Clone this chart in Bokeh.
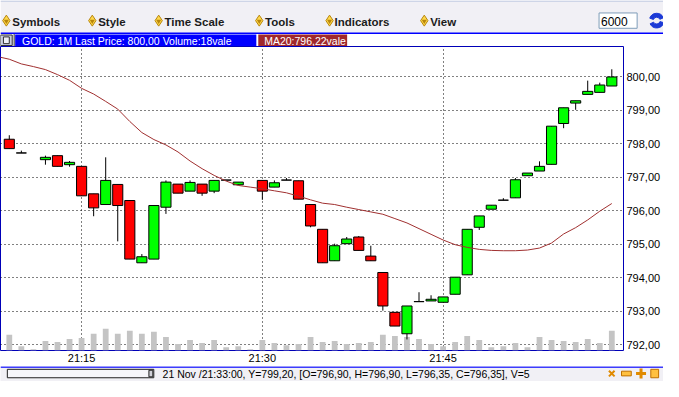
from bokeh.plotting import figure
from bokeh.models import Range1d, FixedTicker, ColumnDataSource, CustomJSTickFormatter
from bokeh.layouts import column
from bokeh.embed import file_html
from bokeh.resources import INLINE
from bokeh.core.properties import value
import numpy as np

nan = float("nan")

# ---------------- data ----------------
times = ["21:%02d" % m for m in range(9, 60)]          # one-minute bars 21:09 .. 21:59
open_ = [798.14, 797.73, nan, 797.53, 797.65, 797.38, 797.33, 796.51, 796.19, 796.79,
         796.31, 794.45, 794.56, 796.11, 796.80, 796.59, 796.80, 796.59, 796.92, 796.78,
         nan, 796.91, 796.71, 796.92, 796.90, 796.19, 795.45, 794.51, 795.02, 795.22,
         794.65, 794.16, 792.97, 792.33, 793.29, 793.31, 793.27, 793.51, 794.09, 795.51,
         796.05, 796.32, 796.39, 797.05, 797.19, 797.39, 798.61, 799.22, 799.48, 799.54,
         799.73]
high = [798.26, 797.80, nan, 797.65, 797.65, 797.49, 797.33, 796.51, 797.60, 796.79,
        796.31, 794.71, 796.16, 796.91, 796.80, 796.91, 796.80, 796.91, 796.92, 796.86,
        nan, 796.91, 796.91, 796.98, 796.90, 796.19, 795.45, 795.02, 795.22, 795.25,
        794.96, 794.16, 792.97, 793.16, 793.57, 793.48, 793.43, 794.02, 795.45, 795.85,
        796.17, 796.38, 796.98, 797.13, 797.48, 798.53, 799.08, 799.29, 799.89, 799.83,
        800.23]
low = [797.86, 797.73, nan, 797.38, 797.33, 797.32, 796.45, 795.84, 796.19, 795.09,
       794.56, 794.45, 794.56, 795.91, 796.53, 796.59, 796.45, 796.53, 796.92, 796.78,
       nan, 796.33, 796.71, 796.92, 796.35, 795.51, 794.45, 794.51, 795.02, 794.82,
       794.51, 793.02, 792.56, 792.16, 793.29, 793.31, 793.27, 793.51, 794.09, 795.43,
       796.05, 796.32, 796.39, 797.05, 797.19, 797.39, 798.47, 799.02, 799.48, 799.54,
       799.73]
close = [797.86, 797.73, nan, 797.60, 797.33, 797.45, 796.45, 796.09, 796.91, 796.16,
         794.56, 794.63, 796.16, 796.86, 796.53, 796.85, 796.53, 796.91, 796.92, 796.86,
         nan, 796.59, 796.84, 796.92, 796.35, 795.55, 794.45, 794.96, 795.16, 794.82,
         794.51, 793.16, 792.56, 793.16, 793.29, 793.36, 793.43, 794.02, 795.45, 795.85,
         796.17, 796.32, 796.93, 797.13, 797.33, 798.53, 799.08, 799.29, 799.57, 799.76,
         800.00]
volume = [14, 3, 0, 8, 7, 10, 11, 15, 20, 15, 18, 15, 17, 12, 5, 9, 6, 9, 2, 3,
          0, 9, 6, 4, 5, 12, 7, 8, 5, 6, 7, 14, 13, 12, 10, 5, 3, 7, 13, 9,
          2, 3, 6, 2, 12, 9, 8, 7, 10, 6, 18]
# MA20 starts one bar before the first visible candle (21:08)
ma20 = [800.61, 800.53, 800.39, 800.31, 800.22, 800.07, 799.90, 799.66, 799.49, 799.27,
        799.04, 798.67, 798.34, 798.13, 797.97, 797.76, 797.49, 797.26, 797.06, 796.89,
        796.76, 796.71, 796.66, 796.60, 796.54, 796.44, 796.33, 796.23, 796.19, 796.11,
        796.04, 795.97, 795.90, 795.77, 795.64, 795.47, 795.30, 795.13, 794.99, 794.91,
        794.85, 794.82, 794.81, 794.81, 794.83, 794.89, 795.04, 795.31, 795.50, 795.73,
        795.99, 796.22]
price_ticks = [792, 793, 794, 795, 796, 797, 798, 799, 800]
time_ticks = ["21:15", "21:30", "21:45"]
menu_items = ["Symbols", "Style", "Time Scale", "Tools", "Indicators", "View"]
cursor_bar = "21:33"
cursor_y = "799,20"

# ---------------- helpers ----------------
def fmt(v):
    return ("%.2f" % v).replace(".", ",")

W = 663
FONT = value("Liberation Sans")
BLUE = "#0000ff"
BAR_BG = "#f1f0f5"

# ---------------- header (menu + title bar) ----------------
hdr = figure(width=W, height=46, x_range=Range1d(0, 679), y_range=Range1d(48, 0),
             output_backend="svg", toolbar_location=None, min_border=0,
             x_axis_location=None, y_axis_location=None, outline_line_color=None,
             background_fill_color="white", border_fill_color="white", frame_align=False)
hdr.grid.visible = False
hdr.quad(left=0, right=679, top=0, bottom=34, fill_color=BAR_BG, line_color=None)
hdr.segment(x0=0, y0=0.6, x1=679, y1=0.6, line_color="#b4c0dc", line_width=1)
hdr.segment(x0=0, y0=34.3, x1=679, y1=34.3, line_color=BLUE, line_width=1.5)

menu_icon_x = [6, 94, 162, 265, 337, 434]
menu_text_x = [12, 100, 168, 271, 342, 440]
hdr.scatter(x=menu_icon_x, y=[21] * 6, marker="diamond", size=11,
            fill_color="#ffd84a", line_color="#b8860b", line_width=1)
hdr.scatter(x=menu_icon_x, y=[21.5] * 6, marker="inverted_triangle", size=5,
            fill_color="#b8860b", line_color=None)
hdr.text(x=menu_text_x, y=[22] * 6, text=menu_items, text_font=FONT,
         text_font_style="bold", text_font_size="11.5px", text_baseline="middle",
         text_color="#1c1c1c")

# quantity box + refresh icon
hdr.quad(left=613, right=652, top=13, bottom=29, fill_color="white", line_color="#7f9db9")
hdr.text(x=[615], y=[21.5], text=["6000"], text_font=FONT, text_font_size="12px",
         text_baseline="middle", text_color="black")
hdr.annular_wedge(x=[672, 672], y=[21, 21], inner_radius=3.5, outer_radius=7.5,
                  start_angle=[0.4, 3.6], end_angle=[2.8, 6.0], color="#1c3ad6")

# title bar
hdr.quad(left=0, right=12, top=36, bottom=47, fill_color="#c8cce0", line_color="#303030")
hdr.quad(left=3, right=9, top=38, bottom=45, fill_color="#eef0f8", line_color="#303030")
hdr.segment(x0=14, y0=35, x1=14, y1=48, line_color="#303030")
hdr.quad(left=15, right=262, top=35.5, bottom=48, fill_color=BLUE, line_color=None)
hdr.quad(left=264, right=355, top=35.5, bottom=48, fill_color="#a0282c", line_color=None)
title_txt = "GOLD: 1M Last Price: %s Volume:%dvale" % (fmt(close[-1]), volume[-1])
ma_txt = "MA20:%svale" % fmt(ma20[-1])
hdr.text(x=[22, 270], y=[42, 42], text=[title_txt, ma_txt], text_font=FONT,
         text_font_size="10.5px", text_baseline="middle", text_color="white")

# ---------------- main chart ----------------
n = len(times)
idx = np.arange(n)
o = np.array(open_, dtype=float)
h = np.array(high, dtype=float)
l = np.array(low, dtype=float)
c = np.array(close, dtype=float)
colors = ["#00ff00" if not (cc < oo) else "#ff0000" for oo, cc in zip(o, c)]
src = ColumnDataSource(dict(x=idx, open=o, high=h, low=l, close=c, color=colors,
                            vol=np.array(volume, dtype=float)))

p = figure(width=W, height=320, x_range=Range1d(-0.73, 50.97),
           y_range=Range1d(791.83, 800.91), output_backend="svg",
           toolbar_location=None, y_axis_location="right",
           min_border_left=0, min_border_right=38, min_border_top=0, min_border_bottom=14,
           outline_line_color="#0000b8", outline_line_width=1,
           background_fill_color="white", border_fill_color="white", frame_align=False)

vol_start = -1.2
p.extra_y_ranges = {"vol": Range1d(vol_start, 294.1)}
p.vbar(x="x", top="vol", bottom=vol_start, width=0.48, fill_color="#c4c4c4",
       line_color=None, y_range_name="vol", source=src)

p.segment(x0="x", y0="low", x1="x", y1="high", line_color="black", line_width=1, source=src)
p.vbar(x="x", top="open", bottom="close", width=0.84, fill_color="color",
       line_color="black", line_width=1, source=src)

ma_x = np.arange(-1, n)
p.line(x=ma_x, y=ma20, line_color="#a03030", line_width=1)

tick_idx = [times.index(t) for t in time_ticks]
p.xaxis.ticker = FixedTicker(ticks=tick_idx)
p.xaxis.major_label_overrides = {i: t for i, t in zip(tick_idx, time_ticks)}
p.yaxis.ticker = FixedTicker(ticks=price_ticks)
p.yaxis.formatter = CustomJSTickFormatter(code="return tick.toFixed(2).replace('.', ',');")
for ax in (p.xaxis, p.yaxis):
    ax.axis_line_color = None
    ax.major_tick_line_color = None
    ax.minor_tick_line_color = None
    ax.major_tick_out = 0
    ax.major_tick_in = 0
    ax.minor_tick_out = 0
    ax.minor_tick_in = 0
    ax.major_label_text_font = "Liberation Sans"
    ax.major_label_text_font_size = "11px"
    ax.major_label_text_color = "black"
p.xaxis.major_label_standoff = 1
p.yaxis.major_label_standoff = 3

p.xgrid.ticker = FixedTicker(ticks=tick_idx)
p.ygrid.ticker = FixedTicker(ticks=price_ticks)
for g in (p.xgrid, p.ygrid):
    g.grid_line_color = "black"
    g.grid_line_dash = "1 3"
    g.grid_line_width = 1

# ---------------- status bar ----------------
st = figure(width=W, height=15, x_range=Range1d(0, 679), y_range=Range1d(397, 381),
            output_backend="svg", toolbar_location=None, min_border=0,
            x_axis_location=None, y_axis_location=None, outline_line_color=None,
            background_fill_color=BAR_BG, border_fill_color=BAR_BG, frame_align=False)
st.grid.visible = False
st.segment(x0=0, y0=381.6, x1=679, y1=381.6, line_color=BLUE, line_width=1.5)
st.quad(left=7, right=157, top=384, bottom=393, fill_color="#f6f6fa", line_color="#202020")
st.quad(left=152, right=156, top=385, bottom=392, fill_color="#d0d0d8", line_color="#202020")
k = times.index(cursor_bar)
status_txt = "21 Nov /%s:00, Y=%s, [O=%s, H=%s, L=%s, C=%s], V=%d" % (
    cursor_bar, cursor_y, fmt(open_[k]), fmt(high[k]), fmt(low[k]), fmt(close[k]), volume[k])
st.text(x=[166], y=[388.5], text=[status_txt], text_font=FONT, text_font_size="10.5px",
        text_baseline="middle", text_color="black")
st.scatter(x=[626], y=[388.5], marker="x", size=8, line_color="#e08a00", line_width=2)
st.quad(left=636, right=646, top=386, bottom=391, fill_color="#ffc040", line_color="#c07000")
st.scatter(x=[656], y=[388.5], marker="cross", size=10, line_color="#e08a00", line_width=3)
st.quad(left=666, right=674, top=384, bottom=393, fill_color="#ffc040", line_color="#c07000")

layout = column(hdr, p, st, spacing=0)
open("out.html", "w").write(file_html(layout, INLINE))
